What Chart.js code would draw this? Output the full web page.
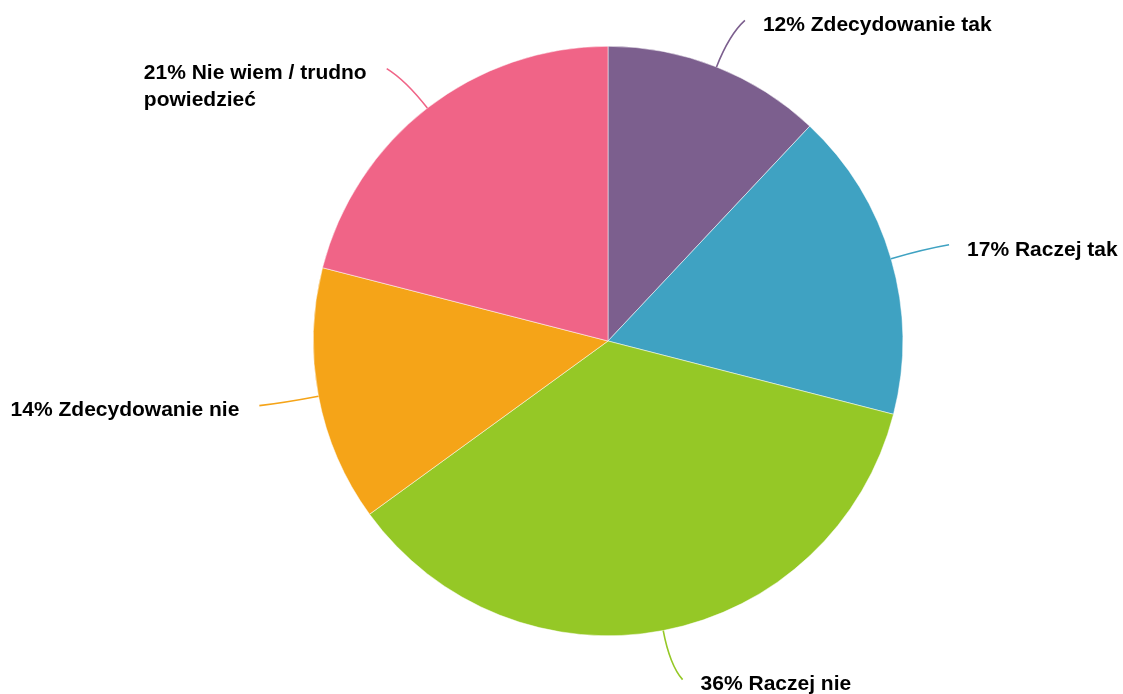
<!DOCTYPE html>
<html lang="pl">
  <head>
    <meta charset="UTF-8" />
    <title>Pie</title>
    <script src="https://cdn.jsdelivr.net/npm/chart.js"></script>
    <style>
      html, body { margin: 0; padding: 0; background: #fff; }
      .chart-container { width: 1123px; height: 694px; }
    </style>
  </head>
  <body>
    <div class="chart-container">
      <canvas id="pieChart"></canvas>
    </div>

    <script>
      const categories = [
        "Zdecydowanie tak",
        "Raczej tak",
        "Raczej nie",
        "Zdecydowanie nie",
        "Nie wiem / trudno powiedzieć",
      ];
      const shares = [12, 17, 36, 14, 21];
      const colors = ["#7c5f8e", "#3fa2c2", "#95c826", "#f5a418", "#f06487"];

      const FONT = "bold 21px 'Liberation Sans', Arial, sans-serif";

      function wrap(ctx, text, maxW) {
        const words = text.split(" ");
        const lines = [];
        let cur = "";
        words.forEach((w) => {
          const t = cur ? cur + " " + w : w;
          if (ctx.measureText(t).width > maxW && cur) {
            lines.push(cur);
            cur = w;
          } else {
            cur = t;
          }
        });
        if (cur) lines.push(cur);
        return lines;
      }

      // outside labels with curved leader lines
      const outsideLabels = {
        id: "outsideLabels",
        afterDatasetsDraw(chart) {
          const ctx = chart.ctx;
          const meta = chart.getDatasetMeta(0);
          ctx.save();
          ctx.font = FONT;
          meta.data.forEach((arc, i) => {
            const p = arc.getProps(["x", "y", "startAngle", "endAngle", "outerRadius"], true);
            const mid = (p.startAngle + p.endAngle) / 2;
            const cos = Math.cos(mid), sin = Math.sin(mid);
            const side = cos >= 0 ? 1 : -1;
            const r = p.outerRadius;
            const x0 = p.x + cos * r, y0 = p.y + sin * r;
            const cx = p.x + cos * (r + 35), cy = p.y + sin * (r + 35);
            const x2 = p.x + cos * (r + 50) + side * 10;
            const y2 = p.y + sin * (r + 50);

            ctx.strokeStyle = colors[i];
            ctx.lineWidth = 1.6;
            ctx.beginPath();
            ctx.moveTo(x0, y0);
            ctx.quadraticCurveTo(cx, cy, x2, y2);
            ctx.stroke();

            const text = shares[i] + "% " + categories[i];
            const lines = wrap(ctx, text, 240);
            const maxW = Math.max(...lines.map((l) => ctx.measureText(l).width));
            const tx = side > 0 ? x2 + 18 : x2 - 20 - maxW;
            ctx.fillStyle = "#000";
            ctx.textAlign = "left";
            ctx.textBaseline = "middle";
            lines.forEach((l, k) => {
              ctx.fillText(l, tx, y2 + 5 + k * 27);
            });
          });
          ctx.restore();
        },
      };

      new Chart(document.getElementById("pieChart"), {
        type: "pie",
        data: {
          labels: categories,
          datasets: [
            {
              data: shares,
              backgroundColor: colors,
              borderColor: "#ffffff",
              borderWidth: 0.5,
            },
          ],
        },
        options: {
          responsive: true,
          maintainAspectRatio: false,
          animation: false,
          layout: {
            padding: { left: 313, right: 220, top: 46, bottom: 58 },
          },
          plugins: {
            legend: { display: false },
            tooltip: { enabled: false },
          },
        },
        plugins: [outsideLabels],
      });
    </script>
  </body>
</html>
